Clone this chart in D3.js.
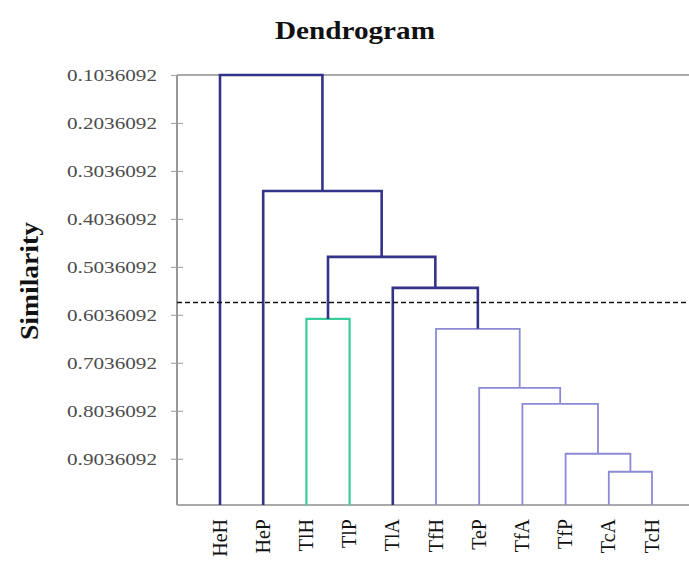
<!DOCTYPE html>
<html>
<head>
<meta charset="utf-8">
<script src="https://cdn.jsdelivr.net/npm/d3@7"></script>
<style>
  html, body { margin: 0; padding: 0; background: #fff; }
  svg { display: block; }
  text { font-family: 'Liberation Serif', 'Times New Roman', Times, serif; }
</style>
</head>
<body>
<svg id="chart" width="689" height="565"></svg>
<script>
// ---- data ----
const leaves = ["HeH", "HeP", "TlH", "TlP", "TlA", "TfH", "TeP", "TfA", "TfP", "TcA", "TcH"];
// merges: [left child, right child, similarity, color group]
// children are leaf names or "m<index>" for an earlier merge
const mergeLeft  = ["TcA", "TfP", "TfA", "TeP", "TfH", "TlA", "TlH", "m6",  "HeP", "HeH"];
const mergeRight = ["TcH", "m0",  "m1",  "m2",  "m3",  "m4",  "TlP", "m5",  "m7",  "m8"];
const mergeSim   = [0.9307, 0.8932, 0.7890, 0.7557, 0.6328, 0.5474, 0.6120, 0.4828, 0.3453, 0.1036092];
const mergeGroup = ["light", "light", "light", "light", "light", "dark", "green", "dark", "dark", "dark"];
const leafSim = 1.0;
const cutSim = 0.5780;
const yTicks = [0.1036092, 0.2036092, 0.3036092, 0.4036092, 0.5036092, 0.6036092, 0.7036092, 0.8036092, 0.9036092];
const yTickLabels = ["0.1036092", "0.2036092", "0.3036092", "0.4036092", "0.5036092", "0.6036092", "0.7036092", "0.8036092", "0.9036092"];

const colors = { dark: "#33338a", green: "#3ccc9c", light: "#8a8ad6" };

// ---- layout ----
const svg = d3.select("#chart");
const plotLeft = 177, plotRight = 689, plotTop = 75, plotBottom = 505;

const x = d3.scalePoint().domain(leaves).range([220, 652]);
const y = d3.scaleLinear().domain([0.1036092, 1.0]).range([plotTop, plotBottom]);

// frame lines
svg.append("line").attr("x1", plotLeft).attr("x2", plotRight).attr("y1", plotTop).attr("y2", plotTop)
  .attr("stroke", "#aaaaaa").attr("stroke-width", 2);
svg.append("line").attr("x1", plotLeft).attr("x2", plotRight).attr("y1", plotBottom).attr("y2", plotBottom)
  .attr("stroke", "#aaaaaa").attr("stroke-width", 2);

// y axis
const yAxis = d3.axisLeft(y).tickValues(yTicks).tickFormat((d, i) => yTickLabels[i]).tickSize(0);
const ga = svg.append("g").attr("transform", `translate(${plotLeft},0)`).call(yAxis);
ga.attr("font-family", null).attr("font-size", null);
ga.select(".domain").remove();
ga.selectAll(".tick text").remove();
ga.append("line").attr("x1", 0).attr("x2", 0).attr("y1", plotTop).attr("y2", plotBottom)
  .attr("stroke", "#999999").attr("stroke-width", 2);
ga.selectAll(".tick").append("line").attr("x1", -6).attr("x2", 6).attr("stroke", "#aaaaaa").attr("stroke-width", 1.2);
ga.selectAll(".tick").append("text")
  .attr("x", -20).attr("dy", "0.35em")
  .attr("text-anchor", "end")
  .style("font-family", "'Liberation Serif', 'Times New Roman', serif")
  .attr("font-size", 17)
  .attr("fill", "#4d4d4d")
  .attr("textLength", 90).attr("lengthAdjust", "spacingAndGlyphs")
  .text((d, i) => yTickLabels[i]);

// node positions
const pos = {};
leaves.forEach(l => { pos[l] = { x: x(l), s: leafSim }; });
mergeLeft.forEach((l, i) => {
  const a = pos[l], b = pos[mergeRight[i]];
  pos["m" + i] = { x: (a.x + b.x) / 2, s: mergeSim[i], a, b, g: mergeGroup[i] };
});

// links
const links = mergeLeft.map((l, i) => pos["m" + i]);
svg.append("g").selectAll("path").data(links).join("path")
  .attr("d", n => `M${n.a.x},${y(n.a.s)}V${y(n.s)}H${n.b.x}V${y(n.b.s)}`)
  .attr("fill", "none")
  .attr("stroke", n => colors[n.g])
  .attr("stroke-width", n => n.g === "dark" ? 2.6 : (n.g === "green" ? 2.2 : 1.8));

// cut line
svg.append("line").attr("x1", plotLeft).attr("x2", plotRight).attr("y1", y(cutSim)).attr("y2", y(cutSim))
  .attr("stroke", "#111111").attr("stroke-width", 1.6).attr("stroke-dasharray", "5,3");

// x labels
svg.append("g").selectAll("text").data(leaves).join("text")
  .attr("transform", d => `translate(${x(d) + 6.5},519) rotate(-90)`)
  .attr("text-anchor", "end")
  .style("font-family", "'Liberation Serif', 'Times New Roman', serif")
  .attr("font-size", 20)
  .attr("fill", "#111111")
  .text(d => d);

// title
svg.append("text").attr("x", 355).attr("y", 39).attr("text-anchor", "middle")
  .style("font-family", "'Liberation Serif', 'Times New Roman', serif").attr("font-weight", "bold")
  .attr("font-size", 25).attr("fill", "#111111")
  .attr("textLength", 160).attr("lengthAdjust", "spacingAndGlyphs")
  .text("Dendrogram");

// y label
svg.append("text").attr("transform", "translate(38,281) rotate(-90)").attr("text-anchor", "middle")
  .style("font-family", "'Liberation Serif', 'Times New Roman', serif").attr("font-weight", "bold")
  .attr("font-size", 25).attr("fill", "#111111")
  .attr("textLength", 118).attr("lengthAdjust", "spacingAndGlyphs")
  .text("Similarity");
</script>
</body>
</html>
